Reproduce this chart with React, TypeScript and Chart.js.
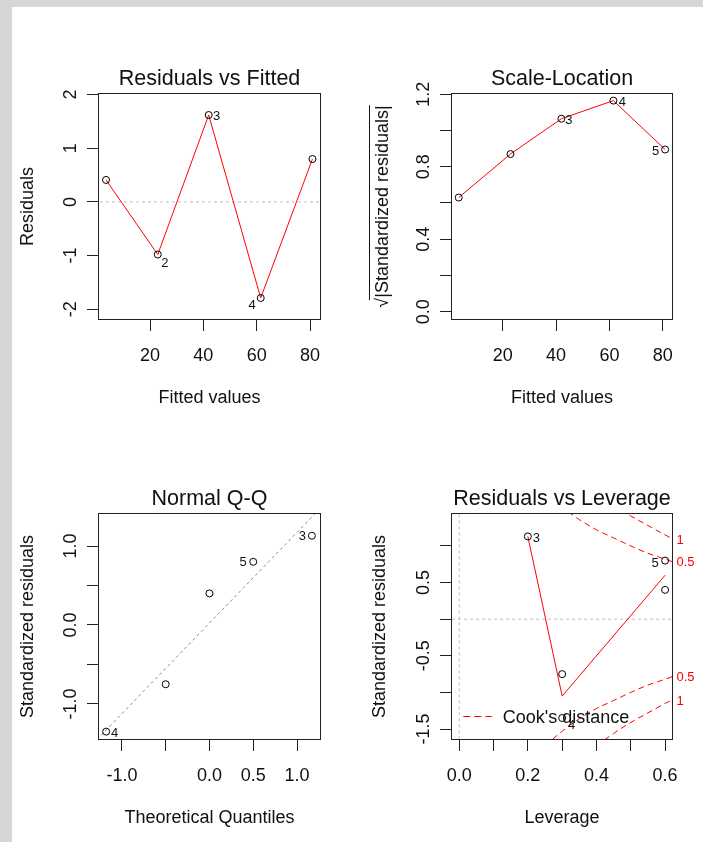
import React, { useEffect, useRef } from 'react';
import { Chart, registerables } from 'chart.js';

Chart.register(...registerables);

// ---------------- data ----------------
const pointIds = ['1', '2', '3', '4', '5'];
const fittedValues = [3.5, 22.9, 42.0, 61.5, 80.9];
const residuals = [0.41, -0.98, 1.62, -1.79, 0.8];
const sqrtAbsStdResiduals = [0.63, 0.87, 1.065, 1.165, 0.895];
const theoreticalQuantiles = [-1.18, -0.5, 0.0, 0.5, 1.17];
const orderedStdResiduals = [-1.35, -0.75, 0.4, 0.8, 1.13];
const orderedIds = ['4', '2', '1', '5', '3'];
const qqLineX = [-2, 2];
const qqLineY = [-2.27, 2.32];
const leverage = [0.6, 0.3, 0.2, 0.3, 0.6];
const stdResiduals = [0.4, -0.75, 1.13, -1.35, 0.8];
const leverageSmoothX = [0.2, 0.3, 0.6];
const leverageSmoothY = [1.13, -1.05, 0.6];
const cookHalfX = [0.25, 0.3, 0.35, 0.4, 0.45, 0.5, 0.55, 0.6, 0.63];
const cookHalfUpper = [1.73, 1.53, 1.36, 1.22, 1.11, 1.0, 0.9, 0.82, 0.77];
const cookHalfLower = [-1.73, -1.53, -1.36, -1.22, -1.11, -1.0, -0.9, -0.82, -0.77];
const cookOneX = [0.4, 0.45, 0.5, 0.55, 0.6, 0.63];
const cookOneUpper = [1.73, 1.56, 1.41, 1.28, 1.15, 1.08];
const cookOneLower = [-1.73, -1.56, -1.41, -1.28, -1.15, -1.08];
const cookLevelLabels = ['0.5', '1'];
const cookLabelUpperY = [0.77, 1.07];
const cookLabelLowerY = [-0.8, -1.12];
const zeroRefY = [0, 0];
const fittedRefX = [-100, 200];
const leverageRefX = [-1, 2];
const leverageRefY = [-5, 5];
const zeroRefX = [0, 0];

// tick labels
const fittedXLabels = ['20', '40', '60', '80'];
const residualYLabels = ['-2', '-1', '0', '1', '2'];
const scaleLocYLabels = ['0.0', '0.4', '0.8', '1.2'];
const qqXLabels = ['-1.0', '0.0', '0.5', '1.0'];
const qqYLabels = ['-1.0', '0.0', '1.0'];
const leverageXLabels = ['0.0', '0.2', '0.4', '0.6'];
const leverageYLabels = ['-1.5', '-0.5', '0.5'];

// ---------------- styling ----------------
const FAMILY = '"Liberation Sans", Arial, Helvetica, sans-serif';
const RED = '#ff0000';
const INK = '#111111';
const FRAME = '#222222';
const AXIS_SIZE = 18;
const TITLE_SIZE = 21.5;
const ID_SIZE = 13;
const TICK_LEN = 11;
const SL_Y_TITLE = '\u221A|Standardized residuals|';

let measureCtx: CanvasRenderingContext2D | null = null;
function textWidth(text: string, size: number) {
  if (!measureCtx) measureCtx = document.createElement('canvas').getContext('2d');
  measureCtx!.font = `${size}px ${FAMILY}`;
  return measureCtx!.measureText(text).width;
}

function fmtTick(v: number, decimals: number, labels: string[]) {
  const t = (Math.abs(v) < 1e-9 ? 0 : v).toFixed(decimals);
  return labels.includes(t) ? t : '';
}

const xy = (xs: number[], ys: number[]) => xs.map((x, i) => ({ x, y: ys[i] }));

function pointsDataset(xs: number[], ys: number[]) {
  return {
    data: xy(xs, ys),
    showLine: false,
    pointStyle: 'circle',
    pointRadius: 3.5,
    pointHoverRadius: 3.5,
    borderColor: '#000',
    backgroundColor: 'rgba(0,0,0,0)',
    borderWidth: 1,
    pointBorderWidth: 1,
  };
}

function lineDataset(xs: number[], ys: number[], color: string, dash: number[] = [], extra: any = {}) {
  return {
    data: xy(xs, ys),
    showLine: true,
    pointRadius: 0,
    pointHoverRadius: 0,
    borderColor: color,
    backgroundColor: color,
    borderWidth: 1,
    borderDash: dash,
    fill: false,
    ...extra,
  };
}

const framePlugin = {
  id: 'frame',
  afterDatasetsDraw(chart: any) {
    const { ctx, chartArea: a } = chart;
    ctx.save();
    ctx.strokeStyle = FRAME;
    ctx.lineWidth = 1;
    ctx.strokeRect(Math.round(a.left) + 0.5, Math.round(a.top) + 0.5, Math.round(a.right - a.left) - 1, Math.round(a.bottom - a.top) - 1);
    ctx.restore();
  },
};

function idPlugin(datasetIndex: number, ids: string[], offsets: Record<string, [number, number]>) {
  return {
    id: 'ids',
    afterDatasetsDraw(chart: any) {
      const { ctx } = chart;
      const meta = chart.getDatasetMeta(datasetIndex);
      ctx.save();
      ctx.font = `${ID_SIZE}px ${FAMILY}`;
      ctx.fillStyle = INK;
      ctx.textAlign = 'center';
      ctx.textBaseline = 'middle';
      ids.forEach((id, i) => {
        const off = offsets[id];
        const el = meta.data[i];
        if (!off || !el) return;
        ctx.fillText(id, el.x + off[0], el.y + off[1]);
      });
      ctx.restore();
    },
  };
}

interface AxisSpec {
  min: number;
  max: number;
  step: number;
  decimals: number;
  labels: string[];
  title: string;
  titlePad: number;
}

function buildConfig(p: {
  title: string;
  padRight: number;
  xSize: number;
  ySize: number;
  x: AxisSpec;
  y: AxisSpec;
  datasets: any[];
  plugins: any[];
}) {
  const yWidest = Math.max(...p.y.labels.map((l) => textWidth(l, AXIS_SIZE)));
  const yTickPad = 27 - TICK_LEN - yWidest / 2;
  const axisFont = { family: FAMILY, size: AXIS_SIZE, lineHeight: 1 };
  const grid = { drawOnChartArea: false, drawTicks: true, tickLength: TICK_LEN, color: FRAME, lineWidth: 1 };
  return {
    type: 'scatter',
    data: { datasets: p.datasets },
    options: {
      animation: false,
      responsive: false,
      maintainAspectRatio: false,
      events: [],
      layout: { padding: { left: 0, right: p.padRight, top: 0, bottom: 0 } },
      plugins: {
        legend: { display: false },
        tooltip: { enabled: false },
        title: {
          display: true,
          text: p.title,
          fullSize: false,
          color: INK,
          font: { family: FAMILY, size: TITLE_SIZE, weight: 'normal', lineHeight: 1 },
          padding: { top: 68.55, bottom: 2.95 },
        },
      },
      scales: {
        x: {
          type: 'linear',
          position: 'bottom',
          min: p.x.min,
          max: p.x.max,
          afterFit: (s: any) => {
            s.height = p.xSize;
          },
          border: { display: false },
          grid,
          ticks: {
            stepSize: p.x.step,
            includeBounds: false,
            autoSkip: false,
            minRotation: 0,
            maxRotation: 0,
            padding: 15.6,
            color: INK,
            font: axisFont,
            callback: (v: number) => fmtTick(v, p.x.decimals, p.x.labels),
          },
          title: {
            display: true,
            text: p.x.title,
            color: INK,
            font: axisFont,
            padding: { top: 0, bottom: p.x.titlePad },
          },
        },
        y: {
          type: 'linear',
          position: 'left',
          min: p.y.min,
          max: p.y.max,
          afterFit: (s: any) => {
            s.width = p.ySize;
          },
          border: { display: false },
          grid,
          ticks: {
            stepSize: p.y.step,
            includeBounds: false,
            autoSkip: false,
            minRotation: 90,
            maxRotation: 90,
            crossAlign: 'center',
            padding: yTickPad,
            color: INK,
            font: axisFont,
            callback: (v: number) => fmtTick(v, p.y.decimals, p.y.labels),
          },
          title: {
            display: true,
            text: p.y.title,
            color: INK,
            font: axisFont,
            padding: { top: p.y.titlePad, bottom: 0 },
          },
        },
      },
    },
    plugins: [framePlugin, ...p.plugins],
  };
}

// ---------------- panels ----------------
function residualsVsFitted() {
  return buildConfig({
    title: 'Residuals vs Fitted',
    padRight: 32,
    xSize: 100,
    ySize: 98,
    x: { min: 0.5, max: 84.1, step: 20, decimals: 0, labels: fittedXLabels, title: 'Fitted values', titlePad: 13.3 },
    y: { min: -2.2, max: 2.03, step: 1, decimals: 0, labels: residualYLabels, title: 'Residuals', titlePad: 18.7 },
    datasets: [
      pointsDataset(fittedValues, residuals),
      lineDataset(fittedValues, residuals, RED),
      lineDataset(fittedRefX, zeroRefY, '#bebebe', [3, 3]),
    ],
    plugins: [idPlugin(0, pointIds, { '3': [8, 1], '2': [7, 8.5], '4': [-8.5, 7.5] })],
  });
}

function scaleLocation() {
  const radicalPlugin = {
    id: 'radical',
    afterDraw(chart: any) {
      const { ctx, chartArea: a } = chart;
      const cy = (a.top + a.bottom) / 2;
      const full = textWidth(SL_Y_TITLE, AXIS_SIZE);
      const rad = textWidth('\u221A', AXIS_SIZE);
      const titleX = AXIS_SIZE / 2 + 21.4;
      const x = Math.round(titleX - 14) + 0.5;
      ctx.save();
      ctx.strokeStyle = INK;
      ctx.lineWidth = 1;
      ctx.beginPath();
      ctx.moveTo(x, cy + full / 2 - rad * 0.75);
      ctx.lineTo(x, cy - full / 2);
      ctx.stroke();
      ctx.restore();
    },
  };
  return buildConfig({
    title: 'Scale-Location',
    padRight: 30,
    xSize: 100,
    ySize: 98,
    x: { min: 0.6, max: 83.85, step: 20, decimals: 0, labels: fittedXLabels, title: 'Fitted values', titlePad: 13.3 },
    y: { min: -0.046, max: 1.207, step: 0.2, decimals: 1, labels: scaleLocYLabels, title: SL_Y_TITLE, titlePad: 21.4 },
    datasets: [pointsDataset(fittedValues, sqrtAbsStdResiduals), lineDataset(fittedValues, sqrtAbsStdResiduals, RED)],
    plugins: [idPlugin(0, pointIds, { '3': [7.5, 1.5], '4': [9, 1.5], '5': [-9.5, 1.5] }), radicalPlugin],
  });
}

function normalQQ() {
  return buildConfig({
    title: 'Normal Q-Q',
    padRight: 32,
    xSize: 102,
    ySize: 98,
    x: { min: -1.273, max: 1.274, step: 0.5, decimals: 1, labels: qqXLabels, title: 'Theoretical Quantiles', titlePad: 15.3 },
    y: { min: -1.456, max: 1.418, step: 0.5, decimals: 1, labels: qqYLabels, title: 'Standardized residuals', titlePad: 18.7 },
    datasets: [pointsDataset(theoreticalQuantiles, orderedStdResiduals), lineDataset(qqLineX, qqLineY, '#8c8c8c', [3, 3])],
    plugins: [idPlugin(0, orderedIds, { '4': [8.5, 1.5], '5': [-10, 1], '3': [-9.5, 1] })],
  });
}

function residualsVsLeverage() {
  const cookPlugin = {
    id: 'cook',
    afterDatasetsDraw(chart: any) {
      const { ctx, chartArea: a, scales } = chart;
      const y = scales.y;
      ctx.save();
      ctx.font = `${ID_SIZE}px ${FAMILY}`;
      ctx.fillStyle = RED;
      ctx.textAlign = 'left';
      ctx.textBaseline = 'middle';
      cookLevelLabels.forEach((t, i) => {
        ctx.fillText(t, a.right + 3.5, y.getPixelForValue(cookLabelUpperY[i]));
        ctx.fillText(t, a.right + 3.5, y.getPixelForValue(cookLabelLowerY[i]));
      });
      const ly = Math.round(a.bottom - 24) + 0.5;
      ctx.strokeStyle = RED;
      ctx.lineWidth = 1;
      ctx.setLineDash([7, 4]);
      ctx.beginPath();
      ctx.moveTo(a.left + 12.3, ly);
      ctx.lineTo(a.left + 40.7, ly);
      ctx.stroke();
      ctx.setLineDash([]);
      ctx.font = `${AXIS_SIZE}px ${FAMILY}`;
      ctx.fillStyle = INK;
      ctx.fillText("Cook's distance", a.left + 51.7, a.bottom - 21.6);
      ctx.restore();
    },
  };
  const mono = { cubicInterpolationMode: 'monotone' };
  return buildConfig({
    title: 'Residuals vs Leverage',
    padRight: 30,
    xSize: 102,
    ySize: 98,
    x: { min: -0.024, max: 0.623, step: 0.1, decimals: 1, labels: leverageXLabels, title: 'Leverage', titlePad: 15.3 },
    y: { min: -1.65, max: 1.45, step: 0.5, decimals: 1, labels: leverageYLabels, title: 'Standardized residuals', titlePad: 18.4 },
    datasets: [
      pointsDataset(leverage, stdResiduals),
      lineDataset(leverageSmoothX, leverageSmoothY, RED),
      lineDataset(cookHalfX, cookHalfUpper, RED, [6, 4], mono),
      lineDataset(cookHalfX, cookHalfLower, RED, [6, 4], mono),
      lineDataset(cookOneX, cookOneUpper, RED, [6, 4], mono),
      lineDataset(cookOneX, cookOneLower, RED, [6, 4], mono),
      lineDataset(leverageRefX, zeroRefY, '#bebebe', [3, 3]),
      lineDataset(zeroRefX, leverageRefY, '#bebebe', [3, 3]),
    ],
    plugins: [idPlugin(0, pointIds, { '3': [8.5, 1.5], '5': [-10, 2.5], '4': [9.5, 7.5] }), cookPlugin],
  });
}

function Panel(props: { left: number; top: number; width: number; height: number; build: () => any }) {
  const ref = useRef<HTMLCanvasElement>(null);
  useEffect(() => {
    if (!ref.current) return;
    const chart = new Chart(ref.current, props.build());
    return () => chart.destroy();
  }, []);
  return (
    <canvas
      ref={ref}
      width={props.width}
      height={props.height}
      style={{ position: 'absolute', left: props.left, top: props.top, width: props.width, height: props.height }}
    />
  );
}

export default function App() {
  return (
    <div style={{ position: 'absolute', left: 0, top: 0, width: 703, height: 842, background: '#d6d6d6', overflow: 'hidden' }}>
      <div style={{ position: 'absolute', left: 12, top: 7, width: 691, height: 835, background: '#ffffff' }} />
      <Panel left={0} top={0} width={353} height={420} build={residualsVsFitted} />
      <Panel left={353} top={0} width={350} height={420} build={scaleLocation} />
      <Panel left={0} top={420} width={353} height={422} build={normalQQ} />
      <Panel left={353} top={420} width={350} height={422} build={residualsVsLeverage} />
    </div>
  );
}
